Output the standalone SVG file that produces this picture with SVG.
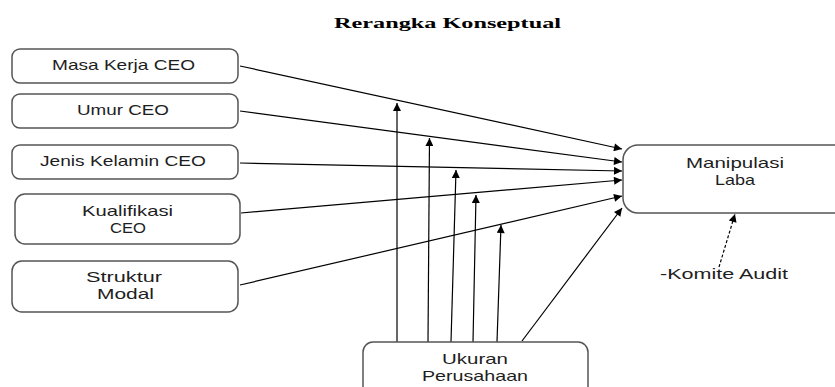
<svg xmlns="http://www.w3.org/2000/svg" width="835" height="387" viewBox="0 0 835 387">
<style>
.box{fill:#fff;stroke:#555;stroke-width:1.5}
.t{font-family:"Liberation Sans",Arial,sans-serif;font-size:14.5px;fill:#1e1e1e;text-anchor:middle}
.title{font-family:"Liberation Serif","Times New Roman",serif;font-size:15px;font-weight:bold;fill:#000;text-anchor:middle}
.c{stroke:#000;stroke-width:1.2;fill:none;marker-end:url(#ah)}
.d{stroke:#000;stroke-width:1.2;fill:none;stroke-dasharray:3,2;marker-end:url(#ah)}
</style>
<defs>
<marker id="ah" viewBox="0 0 10 10" refX="10" refY="5" markerWidth="10" markerHeight="8" markerUnits="userSpaceOnUse" orient="auto">
<path d="M0,0 L10,5 L0,10 z" fill="#000"/>
</marker>
</defs>
<rect width="835" height="387" fill="#fff"/>
<text class="title" x="447.5" y="27.5" textLength="227" lengthAdjust="spacingAndGlyphs">Rerangka Konseptual</text>

<g id="connectors">
<line class="c" x1="240" y1="66" x2="622" y2="149"/>
<line class="c" x1="240" y1="111" x2="622" y2="162"/>
<line class="c" x1="240" y1="163" x2="622" y2="171"/>
<line class="c" x1="241" y1="213" x2="622" y2="180"/>
<line class="c" x1="240" y1="285" x2="622" y2="196"/>
<line class="c" x1="522" y1="341" x2="622" y2="208"/>
<line class="c" x1="397" y1="342" x2="397" y2="103"/>
<line class="c" x1="428" y1="342" x2="429.5" y2="138"/>
<line class="c" x1="451" y1="342" x2="456" y2="170"/>
<line class="c" x1="473" y1="342" x2="476" y2="195"/>
<line class="c" x1="497" y1="342" x2="501" y2="225"/>
<line class="d" x1="719" y1="267" x2="735" y2="214"/>
</g>

<g id="masa-kerja">
<rect class="box" x="12" y="49" width="226" height="34" rx="8"/>
<text class="t" x="123.5" y="69.5" textLength="143" lengthAdjust="spacingAndGlyphs">Masa Kerja CEO</text>
</g>
<g id="umur">
<rect class="box" x="12" y="94" width="226" height="34" rx="8"/>
<text class="t" x="123" y="114.5" textLength="92" lengthAdjust="spacingAndGlyphs">Umur CEO</text>
</g>
<g id="jenis-kelamin">
<rect class="box" x="12" y="145" width="226" height="34" rx="8"/>
<text class="t" x="123" y="165.5" textLength="166" lengthAdjust="spacingAndGlyphs">Jenis Kelamin CEO</text>
</g>
<g id="kualifikasi">
<rect class="box" x="15" y="194" width="225" height="50" rx="10"/>
<text class="t" x="127.5" y="215.5" textLength="91" lengthAdjust="spacingAndGlyphs">Kualifikasi</text>
<text class="t" x="128" y="232.5" textLength="36" lengthAdjust="spacingAndGlyphs">CEO</text>
</g>
<g id="struktur-modal">
<rect class="box" x="12" y="261" width="226" height="51" rx="10"/>
<text class="t" x="124" y="282" textLength="76" lengthAdjust="spacingAndGlyphs">Struktur</text>
<text class="t" x="125.5" y="299" textLength="57" lengthAdjust="spacingAndGlyphs">Modal</text>
</g>
<g id="manipulasi-laba">
<rect class="box" x="623" y="145" width="230" height="68" rx="15"/>
<text class="t" x="735" y="167.5" textLength="98" lengthAdjust="spacingAndGlyphs">Manipulasi</text>
<text class="t" x="735" y="184.5" textLength="40" lengthAdjust="spacingAndGlyphs">Laba</text>
</g>
<g id="ukuran-perusahaan">
<rect class="box" x="363" y="342" width="225" height="60" rx="10"/>
<text class="t" x="475" y="363.5" textLength="66" lengthAdjust="spacingAndGlyphs">Ukuran</text>
<text class="t" x="475" y="381" textLength="106" lengthAdjust="spacingAndGlyphs">Perusahaan</text>
</g>
<g id="komite-audit">
<text class="t" x="724" y="279" textLength="128" lengthAdjust="spacingAndGlyphs">-Komite Audit</text>
</g>
</svg>
